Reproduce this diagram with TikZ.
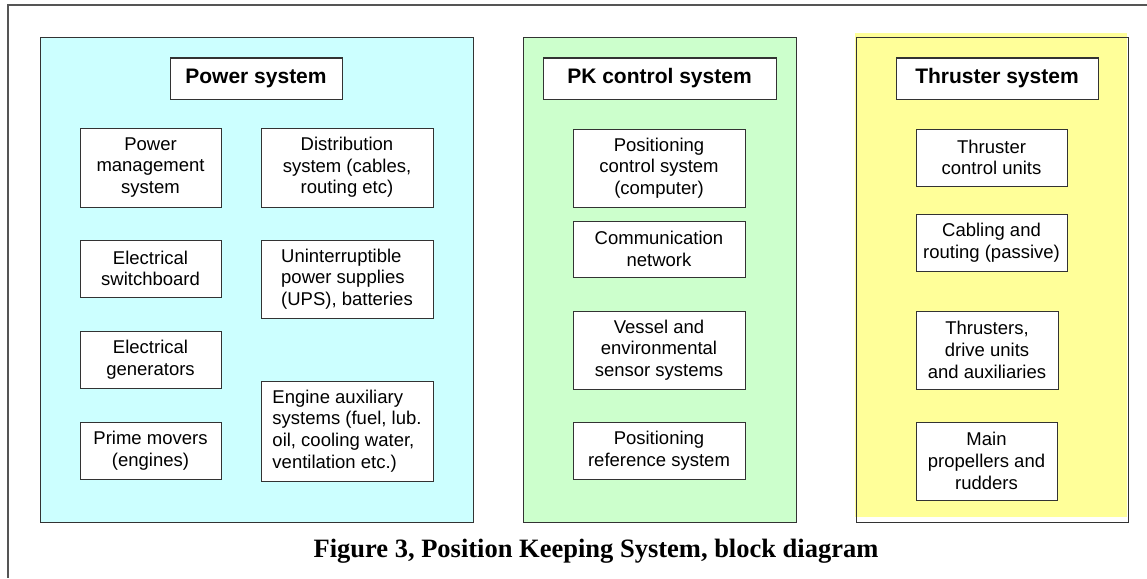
\documentclass[tikz,border=0pt]{standalone}
\usepackage{fontspec}
\setmainfont{Liberation Serif}
\setsansfont{Liberation Sans}
\definecolor{powerfill}{HTML}{CCFFFF}
\definecolor{pkfill}{HTML}{CCFFCC}
\definecolor{thrusterfill}{HTML}{FFFF99}
\definecolor{boxline}{HTML}{333333}
\definecolor{frameline}{HTML}{555555}
\tikzset{
  panel/.style={draw=boxline, line width=1pt, inner sep=0pt},
  heading/.style={draw=boxline, fill=white, line width=1pt, inner sep=0pt,
    minimum height=41, font=\sffamily\bfseries\fontsize{21}{25}\selectfont},
  unit/.style={draw=boxline, fill=white, line width=1pt, inner sep=0pt,
    align=center, font=\sffamily\fontsize{18.5}{21.7}\selectfont},
  leftunit/.style={unit, align=left}
}
\begin{document}
\begin{tikzpicture}[x=1pt,y=-1pt]
      \useasboundingbox (0,0) rectangle (1147,578);
      % outer frame
      \coordinate (frametl) at (8,5);
      \coordinate (framer) at (1147,5);
      \coordinate (frameb) at (8,578);
      \draw[frameline, line width=1.2pt] (framer) -- (frametl) -- (frameb);
      % panels
      \node[panel, fill=powerfill, minimum width=433, minimum height=484]
        (power) at (256.5,280) {};
      \node[panel, fill=pkfill, minimum width=273, minimum height=484]
        (pk) at (659.5,280) {};
      \fill[thrusterfill] (855,33) rectangle (1127,517);
      \node[panel, minimum width=272, minimum height=484]
        (thruster) at (992,280) {};
      % headings
      \node[heading, minimum width=172] (powertitle) at (256,78.5) {Power system};
      \node[heading, minimum width=233] (pktitle) at (659.5,78.5) {PK control system};
      \node[heading, minimum width=202] (thrustertitle) at (997,78.5) {Thruster system};
      % power system
      \begin{scope}[every node/.append style={minimum width=141}]
        \node[unit, minimum height=79] (pms) at (150.5,167.5) {Power\\management\\system};
        \node[unit, minimum height=57] (switchboard) at (150.5,268.5) {Electrical\\switchboard};
        \node[unit, minimum height=57] (generators) at (150.5,359.5) {Electrical\\generators};
        \node[unit, minimum height=57] (primemovers) at (150.5,450.5) {Prime movers\\(engines)};
      \end{scope}
      \begin{scope}[every node/.append style={minimum width=172}]
        \node[unit, minimum height=79] (distribution) at (347,167.5) {Distribution\\system (cables,\\routing etc)};
        \node[leftunit, minimum height=78] (ups) at (347,279) {Uninterruptible\\power supplies\\(UPS), batteries};
        \node[leftunit, minimum height=100] (auxiliary) at (347,431) {Engine auxiliary\\systems (fuel, lub.\\oil, cooling water,\\ventilation etc.)};
      \end{scope}
      % PK control system
      \begin{scope}[every node/.append style={minimum width=172}]
        \node[unit, minimum height=78] (poscontrol) at (659,168) {Positioning\\control system\\(computer)};
        \node[unit, minimum height=56] (network) at (659,249) {Communication\\network};
        \node[unit, minimum height=78] (sensors) at (659,350) {Vessel and\\environmental\\sensor systems};
        \node[unit, minimum height=57] (posref) at (659,450.5) {Positioning\\reference system};
      \end{scope}
      % thruster system
      \node[unit, minimum width=151, minimum height=57] (controlunits) at (991.5,157.5) {Thruster\\control units};
      \node[unit, minimum width=151, minimum height=57] (cabling) at (991.5,242.5) {Cabling and\\routing (passive)};
      \node[unit, minimum width=142, minimum height=78] (thrusters) at (987,350) {Thrusters,\\drive units\\and auxiliaries};
      \node[unit, minimum width=141, minimum height=78] (propellers) at (986.5,461) {Main\\propellers and\\rudders};
      % caption
      \node[font=\bfseries\fontsize{26.5}{30}\selectfont] (caption) at (596,551)
        {Figure 3, Position Keeping System, block diagram};
    \end{tikzpicture}
\end{document}
